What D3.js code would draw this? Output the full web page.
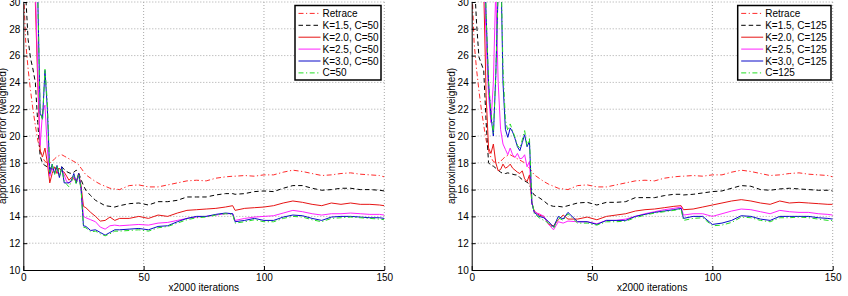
<!DOCTYPE html>
<html>
<head>
<meta charset="utf-8">
<script src="https://cdn.jsdelivr.net/npm/d3@7"></script>
<style>
  body { margin: 0; background: #fff; }
  svg { display: block; font-family: "Liberation Sans", Arial, sans-serif; }
</style>
</head>
<body>
<svg width="848" height="296"></svg>
<script>
// x positions (x2000 iterations), shared by every series
const iters = [0,1,2,3,4,5,6,7,8,9,10,11,12,13,14,15,16,17,18,19,20,21,22,23,24,25,26,
    28,30,32,34,36,38,40,
    44,48,52,56,60,64,68,72,76,80,84,87,88,92,96,100,104,108,112,116,120,124,128,132,136,140,144,148,150];

const xTicks = [0, 50, 100, 150];
const yTicks = [10, 12, 14, 16, 18, 20, 22, 24, 26, 28, 30];

// Retrace is the same in both panels
const retrace = [31.5,27.0,25.0,23.4,22.0,20.8,19.7,18.9,18.4,18.1,18.0,18.0,18.1,18.3,18.45,18.55,18.6,18.5,18.4,18.3,18.2,18.1,18.0,17.85,17.6,17.35,17.1,
    16.85,16.6,16.4,16.25,16.1,16.05,16.0,
    16.3,16.35,16.2,16.2,16.35,16.5,16.65,16.7,16.65,16.85,16.95,17.0,17.0,17.05,17.0,17.1,17.1,17.3,17.45,17.35,17.2,17.05,17.1,17.2,17.25,17.15,17.1,17.05,16.95];

// left panel, C=50
const k15c50 = [34,30.5,27.2,25.8,25.0,24.0,21.0,18.5,17.95,17.8,17.7,17.65,17.5,17.7,17.5,17.6,17.7,17.5,17.35,17.25,17.2,17.3,17.45,17.25,16.75,16.3,15.95,
    15.55,15.2,15.0,14.8,14.75,14.7,14.8,
    14.95,15.0,14.85,15.1,15.1,15.2,15.45,15.45,15.45,15.6,15.7,15.7,15.65,15.7,15.85,15.9,15.85,16.1,16.3,16.3,16.1,15.95,16.0,16.1,16.1,16.0,16.0,15.95,15.9];
const k20c50 = [60,55,48,42,36,30,24,18.9,18.45,19.1,18.0,16.5,17.2,17.7,17.2,17.6,17.4,17.3,17.0,16.7,16.9,16.8,16.6,17.2,16.3,14.75,14.65,
    14.3,14.0,13.65,13.7,13.95,13.7,13.85,
    13.85,14.0,13.85,14.1,14.0,14.25,14.45,14.5,14.55,14.6,14.7,14.8,14.45,14.6,14.65,14.7,14.8,15.0,15.15,15.05,14.9,14.8,15.0,14.9,15.0,14.9,14.9,14.85,14.8];
const k25c50 = [60,55,50,44,38,31,25,19.3,21.8,22.3,19.0,17.0,17.6,17.3,17.5,17.0,17.5,17.1,16.6,16.5,16.6,17.0,16.5,17.1,16.1,14.0,13.9,
    13.75,13.6,13.2,13.05,13.3,13.35,13.3,
    13.35,13.4,13.35,13.5,13.55,13.7,13.85,13.95,14.0,14.1,14.2,14.2,13.7,13.85,13.95,14.0,14.05,14.25,14.45,14.35,14.2,14.1,14.2,14.2,14.25,14.2,14.15,14.15,14.1];
const k30c50 = [60,56,52,47,42,37,30.5,21.7,21.3,24.9,22.0,17.2,17.9,17.2,17.8,16.9,17.7,16.5,16.5,16.5,16.7,17.2,16.5,17.2,16.1,13.3,13.25,
    12.95,13.0,12.8,12.6,12.8,13.0,13.0,
    13.05,13.1,13.0,13.25,13.3,13.6,13.85,14.0,14.0,14.15,14.25,14.2,13.6,13.7,13.85,13.7,13.7,13.95,14.1,14.05,13.85,13.7,13.95,14.0,14.0,13.95,13.9,13.9,13.85];
const c50 = [60,56,52,47,42,37,30.5,21.8,21.2,25.0,22.5,17.3,17.9,17.1,17.8,17.0,17.6,16.6,16.4,16.2,16.6,17.1,16.4,17.1,16.0,13.2,13.15,
    12.85,12.9,12.7,12.55,12.7,12.9,12.9,
    12.95,13.0,12.9,13.15,13.25,13.5,13.75,13.9,13.95,14.1,14.2,14.15,13.5,13.6,13.75,13.6,13.6,13.85,14.0,13.95,13.75,13.6,13.85,13.9,13.95,13.9,13.85,13.8,13.75];

// right panel, C=125
const k15c125 = [36,32,28.5,25.9,25.4,24.9,21.0,18.0,17.8,17.75,17.6,17.45,17.3,17.2,17.2,17.25,17.2,17.15,17.1,17.1,16.9,16.75,16.65,16.55,16.4,15.85,15.6,
    15.4,15.15,14.85,14.75,14.75,14.7,14.8,
    15.0,15.05,14.85,15.05,15.05,15.1,15.4,15.4,15.4,15.55,15.65,15.65,15.6,15.65,15.75,15.85,15.9,16.1,16.3,16.25,16.0,15.95,16.05,16.1,16.05,16.0,15.95,15.95,15.9];
const k20c125 = [60,55,48,42,36,31,23,19.1,18.7,19.4,18.0,17.4,17.5,17.9,17.6,17.7,17.9,17.6,17.45,17.3,17.2,17.4,16.8,16.6,17.1,15.0,14.4,
    14.1,14.0,13.4,13.3,13.75,14.1,13.8,
    13.8,13.95,13.75,14.0,14.1,14.2,14.4,14.5,14.55,14.65,14.75,14.8,14.5,14.55,14.7,14.85,15.0,15.15,15.25,15.15,15.0,14.9,15.15,15.0,15.05,15.0,14.95,14.9,14.9];
const k25c125 = [60,55,50,44,38,33,27,23,21,24,31,24,20.5,19.4,19.0,18.6,19.1,18.6,18.4,18.7,18.3,18.35,18.6,17.7,18.1,15.0,14.3,
    14.2,14.0,13.4,13.0,13.6,13.5,13.65,
    13.6,13.6,13.45,13.7,13.7,13.8,14.0,14.2,14.35,14.5,14.6,14.7,14.1,14.2,14.2,14.0,14.2,14.4,14.55,14.5,14.35,14.2,14.45,14.35,14.3,14.3,14.2,14.15,14.1];
const k30c125 = [60,56,52,47,42,35,29,24,21.5,20.0,24.5,31,34,24,20.5,19.9,20.6,20.3,19.8,19.2,18.9,19.5,20.1,19.2,19.6,15.0,14.3,
    14.0,13.9,13.6,13.2,14.0,13.8,14.3,
    13.6,13.6,13.4,13.7,13.7,13.7,14.0,14.15,14.3,14.4,14.5,14.6,13.85,14.0,14.0,13.4,13.5,13.7,14.05,14.0,13.8,13.7,14.0,14.0,14.0,14.0,13.9,13.85,13.8];
const c125 = [60,56,52,47,42,35,29,24,21.8,20.2,24.5,31,34,25,21.2,20.4,20.9,20.4,19.9,19.3,19.1,19.7,20.4,19.3,19.8,15.2,14.2,
    13.9,13.7,13.5,13.1,13.9,13.7,14.2,
    13.5,13.5,13.35,13.6,13.6,13.65,13.9,14.1,14.25,14.35,14.45,14.55,13.7,13.85,13.9,13.3,13.35,13.55,13.95,13.9,13.7,13.6,13.9,13.9,13.95,13.9,13.8,13.7,13.7];

const labelsLeft = ["Retrace", "K=1.5, C=50", "K=2.0, C=50", "K=2.5, C=50", "K=3.0, C=50", "C=50"];
const labelsRight = ["Retrace", "K=1.5, C=125", "K=2.0, C=125", "K=2.5, C=125", "K=3.0, C=125", "C=125"];

const styles = [
    { color: "#ff2a2a", dash: "5,2.5,1.2,2.5" },
    { color: "#000000", dash: "4.5,3" },
    { color: "#e61414", dash: null },
    { color: "#ff22ff", dash: null },
    { color: "#0a0ac8", dash: null },
    { color: "#22dd22", dash: "5,2.5,1.2,2.5" }
];

const svg = d3.select("svg");
const plotTop = 2, plotBottom = 270;

function drawPanel(id, x0, x1, legX, legW, seriesList, labels) {
    const x = d3.scaleLinear().domain([0, 150]).range([x0, x1]);
    const y = d3.scaleLinear().domain([10, 30]).range([plotBottom, plotTop]);
    const g = svg.append("g");

    svg.append("defs").append("clipPath").attr("id", "clip" + id)
        .append("rect").attr("x", x0).attr("y", plotTop).attr("width", x1 - x0).attr("height", plotBottom - plotTop);

    // dotted grid
    g.selectAll(".gx").data(xTicks.slice(1)).enter().append("line")
        .attr("x1", d => x(d)).attr("x2", d => x(d))
        .attr("y1", plotTop).attr("y2", plotBottom)
        .attr("stroke", "#a8a8a8").attr("stroke-dasharray", "1,2");
    g.selectAll(".gy").data(yTicks.slice(1)).enter().append("line")
        .attr("x1", x0).attr("x2", x1)
        .attr("y1", d => y(d)).attr("y2", d => y(d))
        .attr("stroke", "#a8a8a8").attr("stroke-dasharray", "1,2");

    const line = d3.line().x(d => x(d[0])).y(d => y(d[1]));
    seriesList.forEach((vals, i) => {
        g.append("path")
            .datum(iters.map((t, j) => [t, vals[j]]))
            .attr("clip-path", `url(#clip${id})`)
            .attr("fill", "none")
            .attr("stroke", styles[i].color)
            .attr("stroke-width", 1)
            .attr("stroke-linejoin", "round")
            .attr("stroke-dasharray", styles[i].dash)
            .attr("d", line);
    });

    g.append("g").attr("transform", `translate(0,${plotBottom})`)
        .call(d3.axisBottom(x).tickValues(xTicks).tickSizeInner(-4).tickSizeOuter(0).tickPadding(4))
        .call(a => a.selectAll("text").style("font-size", "10px").attr("fill", "#000"));
    g.append("g").attr("transform", `translate(${x0},0)`)
        .call(d3.axisLeft(y).tickValues(yTicks).tickSizeInner(-4).tickSizeOuter(0).tickPadding(3))
        .call(a => a.selectAll("text").style("font-size", "10px").attr("fill", "#000"));

    g.append("text")
        .attr("transform", `translate(${x0 - 17},${(plotTop + plotBottom) / 2}) rotate(-90)`)
        .attr("text-anchor", "middle")
        .style("font-size", "10px")
        .text("approximation error (weighted)");
    g.append("text")
        .attr("x", (x0 + x1) / 2).attr("y", 291)
        .attr("text-anchor", "middle")
        .style("font-size", "10px")
        .text("x2000 iterations");

    // legend
    const leg = g.append("g");
    leg.append("rect")
        .attr("x", legX).attr("y", 5.5).attr("width", legW).attr("height", 74.5)
        .attr("fill", "#fff").attr("stroke", "#000").attr("stroke-width", 1.5);
    labels.forEach((lab, i) => {
        const ly = 13.4 + i * 11.9;
        leg.append("line")
            .attr("x1", legX + 3.5).attr("x2", legX + 25.5)
            .attr("y1", ly).attr("y2", ly)
            .attr("stroke", styles[i].color)
            .attr("stroke-dasharray", styles[i].dash);
        leg.append("text")
            .attr("x", legX + 27.5).attr("y", ly).attr("dy", "0.35em")
            .style("font-size", "10px")
            .text(lab);
    });
}

drawPanel("L", 23.3, 384.3, 295, 86, [retrace, k15c50, k20c50, k25c50, k30c50, c50], labelsLeft);
drawPanel("R", 471.7, 832.7, 737.7, 93.3, [retrace, k15c125, k20c125, k25c125, k30c125, c125], labelsRight);
</script>
</body>
</html>
